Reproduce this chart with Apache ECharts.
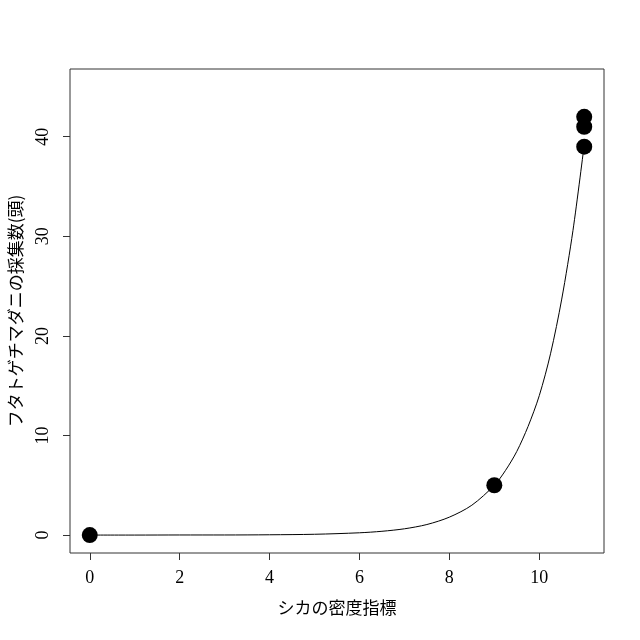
<!DOCTYPE html>
<html>
<head>
<meta charset="utf-8">
<script src="https://cdn.jsdelivr.net/npm/echarts@6/dist/echarts.min.js"></script>
<style>
  html, body { margin: 0; padding: 0; background: #fff; }
  #main { width: 640px; height: 640px; }
</style>
</head>
<body>
<div id="main"></div>
<script>
// observed points
var obsX = [0, 9, 11, 11, 11];
var obsY = [0, 5, 39, 41, 42];

// fitted curve
var curveX = [0, 1, 2, 3, 4, 5, 6, 6.5, 7, 7.5, 8, 8.5, 9, 9.25, 9.5, 9.75, 10, 10.25, 10.5, 10.75, 11];
var curveY = [0, 0, 0.01, 0.01, 0.03, 0.08, 0.23, 0.38, 0.63, 1.06, 1.8, 3.0, 5.0, 6.5, 8.4, 10.9, 14.0, 18.2, 23.7, 30.6, 39.2];

var xTicks = [0, 2, 4, 6, 8, 10];
var yTicks = [0, 10, 20, 30, 40];

var xTitle = 'シカの密度指標';
var yTitle = 'フタトゲチマダニの採集数(頭)';

var myChart = echarts.init(document.getElementById('main'));

var numFont = {
    fontFamily: 'Liberation Serif',
    fontSize: 18,
    color: '#000'
};
var jpFont = {
    fontFamily: 'Noto Sans CJK JP',
    fontSize: 17,
    color: '#000'
};

var option = {
    animation: false,
    grid: {
        left: 70,
        right: 36,
        top: 69,
        bottom: 87,
        outerBoundsMode: 'none',
        show: true,
        borderColor: '#333',
        borderWidth: 1
    },
    xAxis: {
        type: 'value',
        min: -0.44,
        max: 11.44,
        name: xTitle,
        nameLocation: 'middle',
        nameGap: 46,
        nameTextStyle: jpFont,
        axisLine: { show: false, onZero: false },
        splitLine: { show: false },
        axisTick: {
            show: true,
            length: 7,
            customValues: xTicks,
            lineStyle: { color: '#333' }
        },
        axisLabel: Object.assign({
            customValues: xTicks,
            margin: 16
        }, numFont)
    },
    yAxis: {
        type: 'value',
        min: -1.8,
        max: 46.8,
        name: yTitle,
        nameLocation: 'middle',
        nameGap: 46,
        nameTextStyle: jpFont,
        axisLine: { show: false, onZero: false },
        splitLine: { show: false },
        axisTick: {
            show: true,
            length: 7,
            customValues: yTicks,
            lineStyle: { color: '#333' }
        },
        axisLabel: Object.assign({
            customValues: yTicks,
            rotate: 90,
            margin: 18
        }, numFont)
    },
    series: [
        {
            type: 'line',
            data: curveX.map(function (x, i) { return [x, curveY[i]]; }),
            smooth: 0.3,
            showSymbol: false,
            lineStyle: { color: '#000', width: 1 },
            z: 1
        },
        {
            type: 'scatter',
            data: obsX.map(function (x, i) { return [x, obsY[i]]; }),
            symbol: 'circle',
            symbolSize: 16,
            itemStyle: { color: '#000', opacity: 1 },
            z: 2
        }
    ]
};

myChart.setOption(option);
</script>
</body>
</html>
